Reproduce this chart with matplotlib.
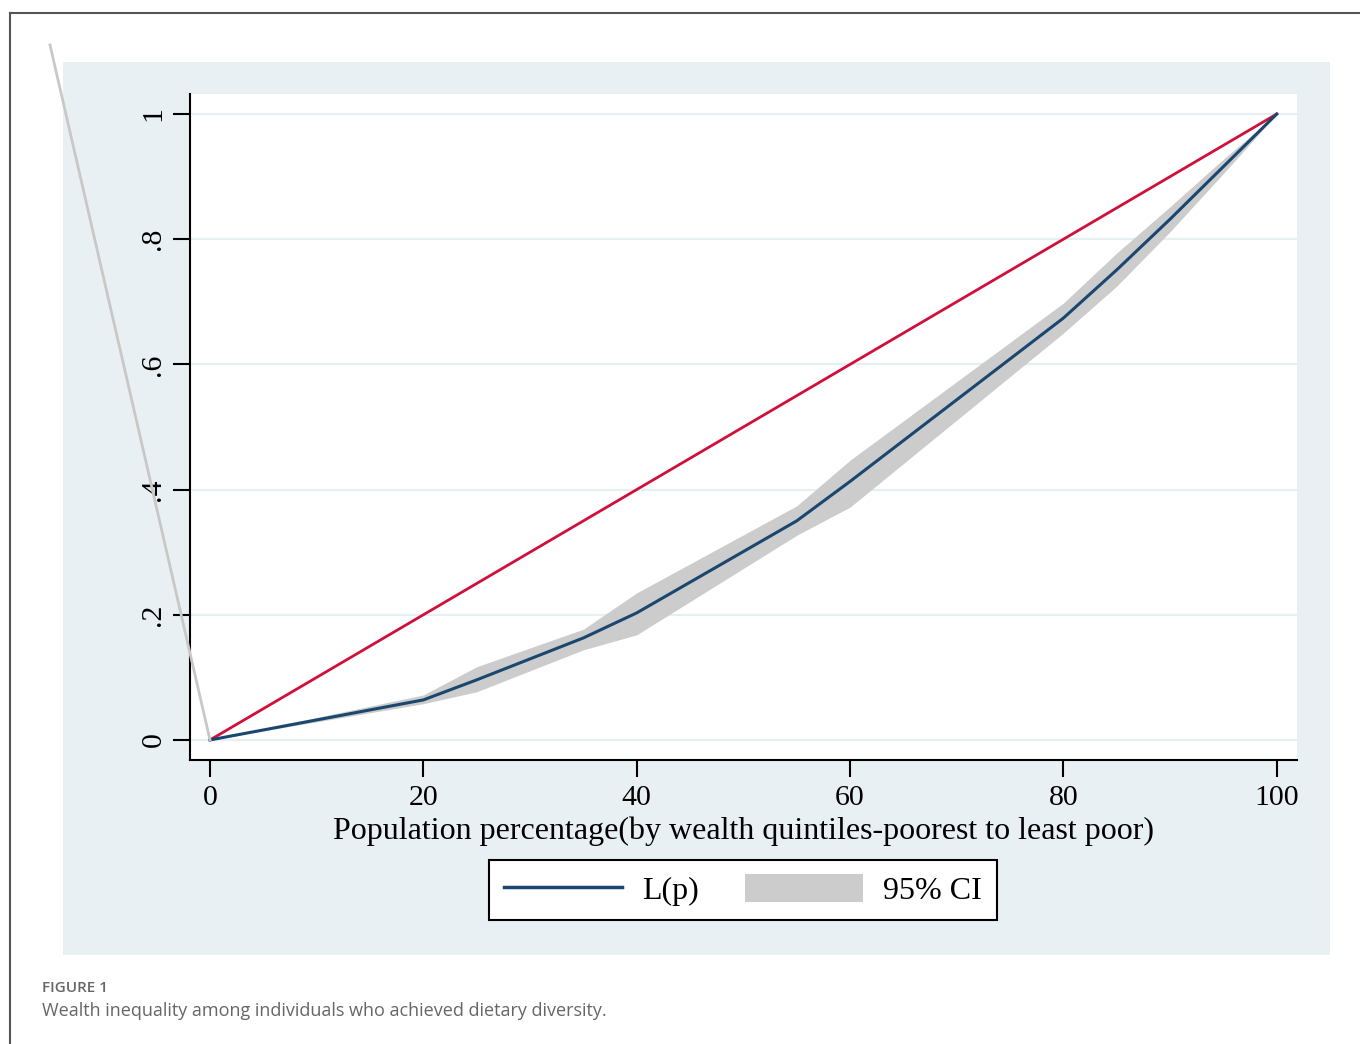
import numpy as np
import matplotlib
matplotlib.use("Agg")
import matplotlib.pyplot as plt
from matplotlib.lines import Line2D
from matplotlib.patches import Rectangle, Patch

# Данные кривой Лоренца (по квинтилям богатства)
pop_pct = [0, 20, 25, 35, 40, 55, 60, 80, 85, 90, 95, 100]
lorenz = [0, 0.064, 0.096, 0.163, 0.203, 0.350, 0.413, 0.674, 0.751, 0.832, 0.916, 1.0]
ci_low = [0, 0.058, 0.077, 0.144, 0.168, 0.327, 0.372, 0.650, 0.725, 0.812, 0.905, 1.0]
ci_high = [0, 0.072, 0.117, 0.177, 0.235, 0.374, 0.447, 0.698, 0.778, 0.852, 0.928, 1.0]
equality = [0, 100]
equality_y = [0, 1]

yticks = [0, 0.2, 0.4, 0.6, 0.8, 1.0]
ytick_labels = ["0", ".2", ".4", ".6", ".8", "1"]
xticks = [0, 20, 40, 60, 80, 100]

serif = ["Liberation Serif", "DejaVu Serif"]
navy = "#1a476f"
red = "#d0103a"
band = "#cccccc"
panel = "#e9f0f3"
grid = "#e6eff2"

W, H = 1360, 1044
fig = plt.figure(figsize=(W / 100, H / 100), dpi=100)
fig.patch.set_facecolor("white")

def fx(px):
    return px / W

def fy(py):
    return 1 - py / H

# Рамка и фон панели
fig.add_artist(Line2D([fx(10), 1], [fy(13), fy(13)], color="#555555", lw=1.5))
fig.add_artist(Line2D([fx(10), fx(10)], [fy(13), 0], color="#555555", lw=1.5))
fig.add_artist(Rectangle((fx(63), fy(955)), fx(1330) - fx(63), fy(62) - fy(955),
                         facecolor=panel, edgecolor="none", zorder=0))

ax = fig.add_axes([fx(190), fy(760), fx(1297) - fx(190), fy(94) - fy(760)])
ax.set_facecolor("white")

ax.fill_between(pop_pct, ci_low, ci_high, color=band, lw=0, zorder=2)
ax.plot(equality, equality_y, color=red, lw=2, zorder=3)
ax.plot(pop_pct, lorenz, color=navy, lw=2.2, zorder=4)

ax.set_xlim(-1.875, 101.9)
ax.set_ylim(-0.032, 1.032)
ax.set_xticks(xticks)
ax.set_yticks(yticks)
ax.set_yticklabels(ytick_labels, rotation=90, va="center")
for lab in ax.get_xticklabels() + ax.get_yticklabels():
    lab.set_fontfamily(serif)
    lab.set_fontsize(21.5)
ax.tick_params(axis="both", length=12, width=1.5, color="black")
ax.tick_params(axis="x", pad=6)
ax.tick_params(axis="y", pad=5)
ax.grid(axis="y", color=grid, lw=1.6, zorder=1)
ax.set_axisbelow(True)
for s in ["top", "right"]:
    ax.spines[s].set_visible(False)
for s in ["left", "bottom"]:
    ax.spines[s].set_linewidth(1.5)

ax.set_xlabel("Population percentage(by wealth quintiles-poorest to least poor)",
              fontsize=23, family=serif, labelpad=4)

# Серая диагональная линия слева (артефакт исходного рисунка)
fig.add_artist(Line2D([fx(50), fx(210)], [fy(45), fy(740)], color="#c8c8c8", lw=2, zorder=5))

handles = [Line2D([], [], color=navy, lw=2.5), Patch(facecolor=band, edgecolor="none")]
leg = fig.legend(handles, ["L(p)", "95% CI"], loc="center",
                 bbox_to_anchor=(fx(743), fy(890)), ncol=2, frameon=True, fancybox=False,
                 edgecolor="black", facecolor="white", framealpha=1,
                 prop={"family": serif, "size": 23},
                 handlelength=3.7, handleheight=1.0, handletextpad=0.63,
                 columnspacing=1.45, borderpad=0.45, borderaxespad=0)
leg.get_frame().set_linewidth(1.5)

fig.text(fx(42), fy(988), "FIGURE 1", fontsize=11, color="#666666",
         family=["Open Sans", "DejaVu Sans"], weight="semibold", va="center")
fig.text(fx(42), fy(1011), "Wealth inequality among individuals who achieved dietary diversity.",
         fontsize=13, color="#666666", family=["Open Sans", "DejaVu Sans"], va="center")

fig.savefig("out.png", dpi=100)
